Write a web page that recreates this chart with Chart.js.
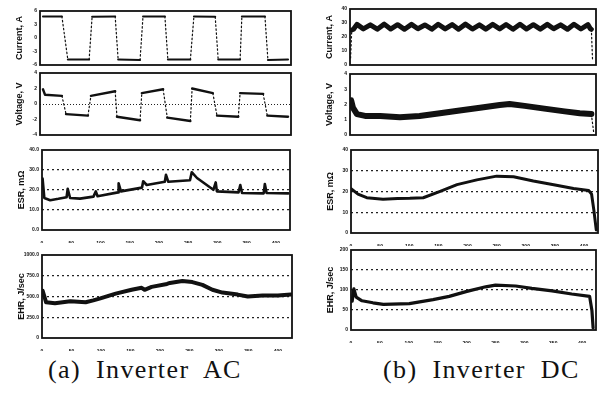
<!DOCTYPE html>
<html><head><meta charset="utf-8">
<script src="https://cdn.jsdelivr.net/npm/chart.js@4"></script>
<style>
html,body{margin:0;padding:0;background:#fff;}
body{width:603px;height:396px;position:relative;overflow:hidden;}
.p{position:absolute;}
.cap{position:absolute;font-family:"Liberation Serif","DejaVu Serif",serif;font-size:26px;letter-spacing:1.4px;word-spacing:7px;color:#111;white-space:pre;line-height:30px;}
</style></head><body>
<div class="cap" style="left:48px;top:355px;">(a) Inverter AC</div>
<div class="cap" style="left:383px;top:355px;">(b) Inverter DC</div>
<script>
// ---- shared time axis ----
const xTickValues = [0, 50, 100, 150, 200, 250, 300, 350, 400];
const xTickLabels = ['0', '50', '100', '150', '200', '250', '300', '350', '400'];

// ---- (a) Inverter AC ----
const acCurX = [5,37,47,83,88,127,132,169,174,211,216,254,260,296,301,338,341,380,385,419];
const acCurY = [4.8,4.8,-4.8,-4.8,4.7,4.8,-4.8,-4.9,4.8,4.8,-4.8,-4.8,4.8,4.7,-4.8,-4.8,4.8,4.8,-4.9,-4.8];
const acCurTicks = [-6, -3, 0, 3, 6];
const acCurLabels = ['-6', '-3', '0', '3', '6'];

const acVolX = [5,8.5,37,44,81,86,127,130,169,172,208,215,254,257,292,299,335,338,377,384,419];
const acVolY = [1.9,1.2,1.05,-1.3,-1.5,1.05,1.65,-1.65,-2.1,1.4,1.9,-1.75,-2.2,2.0,1.4,-1.5,-1.65,1.4,1.3,-1.5,-1.65];
const acVolTicks = [-4, -2, 0, 2, 4];
const acVolLabels = ['-4', '-2', '0', '2', '4'];

const acEsrX = [1,4,14,28,42,44,48,65,88,92,95,130,131,135,171,173,179,210,212,216,253,256,265,293,297,299,336,339,342,379,381,384,421];
const acEsrY = [25.7,16.0,14.9,15.6,16.4,20.6,16.0,15.7,16.7,19.3,16.9,18.8,23.3,19.3,21.2,24.4,22.5,24.1,27.6,24.1,24.9,28.9,26.0,20.1,23.8,19.3,18.8,22.5,18.5,18.3,23.0,18.5,18.3];
const acEsrTicks = [0, 10, 20, 30, 40];
const acEsrLabels = ['0.0', '10.0', '20.0', '30.0', '40.0'];

const acEhrX = [1,7,22,48,74,87,99,125,152,169,174,186,212,217,238,255,272,289,306,332,349,374,400,422];
const acEhrY = [570,430,419,442,430,453,477,535,581,605,581,616,651,663,686,674,640,581,547,523,500,512,512,523];
const acEhrTicks = [0, 250, 500, 750, 1000];
const acEhrLabels = ['0', '250.0', '500.0', '750.0', '1000.0'];

// ---- (b) Inverter DC ----
const dcCurX = [1,3,6,12,23,35,47,59,70,82,94,106,117,129,141,152,164,176,187,199,211,223,234,246,258,269,281,293,304,316,328,340,351,363,375,386,398,410,414,416,418];
const dcCurY = [5,25,25.5,29,25.8,28.7,25.6,29.2,25.7,28.8,25.5,29,25.9,28.6,25.6,29.1,25.8,28.9,25.5,29.2,25.7,28.7,25.6,29,25.8,28.9,25.5,29.1,25.7,28.8,25.6,29,25.9,28.7,25.5,29.1,25.7,28.9,26,25.5,4];
const dcCurTicks = [0, 10, 20, 30, 40];
const dcCurLabels = ['0', '10', '20', '30', '40'];

const dcVolX = [2,5,12,26,52,86,120,155,189,224,258,275,301,335,370,396,416,420];
const dcVolY = [2.27,1.8,1.37,1.25,1.25,1.16,1.25,1.43,1.61,1.79,1.97,2.03,1.91,1.73,1.55,1.43,1.37,0.18];
const dcVolTicks = [0, 1, 2, 3, 4];
const dcVolLabels = ['0', '1', '2', '3', '4'];

const dcEsrX = [0,12,27,55,80,101,124,153,182,216,250,279,313,348,382,408,413,417,421];
const dcEsrY = [21.4,18.7,17.0,16.3,16.6,16.7,17.0,20.1,23.3,25.6,27.4,27.1,25.1,23.3,21.4,20.5,18.7,10.8,1.5];
const dcEsrTicks = [0, 10, 20, 30, 40];
const dcEsrLabels = ['0', '10', '20', '30', '40'];

const dcEhrX = [2,5,9,19,38,56,101,142,170,199,233,250,285,313,348,382,413,417,419];
const dcEhrY = [72,103,82,73,68,64,66,76,84,96,108,112,110,104,98,90,84,48,5];
const dcEhrTicks = [0, 50, 100, 150, 200];
const dcEhrLabels = ['0', '50', '100', '150', '200'];

Chart.defaults.font.family = '"Liberation Sans", Arial, sans-serif';

const AX = 28, PT = 3, PR = 4;
const framePlugin = {
  id: 'frame',
  afterDatasetsDraw(ch) {
    const {ctx, chartArea: a} = ch;
    ctx.save();
    ctx.strokeStyle = '#111';
    ctx.lineWidth = 1.8;
    ctx.strokeRect(a.left, a.top, a.right - a.left, a.bottom - a.top);
    ctx.restore();
  }
};
function steep(c) {
  const dx = Math.abs(c.p1.x - c.p0.x), dy = Math.abs(c.p1.y - c.p0.y);
  return dy > 8 && dy > 2 * dx;
}
function panel(cfg) {
  const XB = cfg.xTicks ? 13 : 3;
  const div = document.createElement('div');
  div.className = 'p';
  div.style.left = (cfg.left - AX) + 'px';
  div.style.top = (cfg.top - PT) + 'px';
  div.style.width = (cfg.w + AX + PR) + 'px';
  div.style.height = (cfg.h + PT + XB) + 'px';
  const cv = document.createElement('canvas');
  div.appendChild(cv);
  document.body.appendChild(div);
  const ds = {
    data: cfg.xs.map((x, i) => ({x: x, y: cfg.ys[i]})),
    borderColor: '#111', borderWidth: cfg.lw, pointRadius: 0, tension: 0, fill: false,
    borderJoinStyle: 'round', borderCapStyle: 'round'
  };
  if (cfg.dashSteep) {
    ds.segment = {
      borderDash: c => steep(c) ? [1.5, 2.5] : undefined,
      borderWidth: c => steep(c) ? 1.2 : undefined
    };
  }
  new Chart(cv, {
    type: 'line',
    data: {datasets: [ds]},
    options: {
      responsive: true, maintainAspectRatio: false, animation: false, events: [],
      layout: {padding: {top: PT, right: PR, left: 0, bottom: 0}},
      plugins: {legend: {display: false}, tooltip: {enabled: false}},
      scales: {
        x: {
          type: 'linear', min: 0, max: 424,
          afterFit: s => { s.height = XB; },
          afterBuildTicks: s => { s.ticks = xTickValues.map(v => ({value: v})); },
          ticks: {display: cfg.xTicks, autoSkip: false, maxRotation: 0, padding: 3,
                  font: {size: 5, weight: 'bold'}, color: '#111',
                  callback: (v, i) => xTickLabels[i]},
          grid: {display: false}, border: {display: false}
        },
        y: {
          type: 'linear', min: cfg.ticks[0], max: cfg.ticks[cfg.ticks.length - 1],
          afterFit: s => { s.width = AX; },
          afterBuildTicks: s => { s.ticks = cfg.ticks.map(v => ({value: v})); },
          ticks: {padding: 3, font: {size: 5, weight: 'bold'}, color: '#111',
                  callback: (v, i) => cfg.labels[i]},
          grid: {drawTicks: false, lineWidth: cfg.gridW || 1.3,
                 color: c => (cfg.grid.indexOf(c.tick.value) >= 0) ? '#222' : 'rgba(0,0,0,0)'},
          border: {display: false, dash: cfg.gridDash || [2, 3]},
          title: {display: true, text: cfg.title, color: '#111',
                  font: {size: 9, weight: 'bold'}, padding: {top: 2, bottom: 0}}
        }
      }
    },
    plugins: [framePlugin]
  });
}

panel({left: 40, top: 8, w: 251, h: 60, xs: acCurX, ys: acCurY, ticks: acCurTicks, labels: acCurLabels,
       grid: [], title: 'Current, A', lw: 2, dashSteep: true, xTicks: false});
panel({left: 40, top: 70, w: 251, h: 68, xs: acVolX, ys: acVolY, ticks: acVolTicks, labels: acVolLabels,
       grid: [0], gridW: 1, gridDash: [1, 2], title: 'Voltage, V', lw: 2.4, dashSteep: true, xTicks: false});
panel({left: 42, top: 147, w: 248, h: 83, xs: acEsrX, ys: acEsrY, ticks: acEsrTicks, labels: acEsrLabels,
       grid: [10, 20, 30], title: 'ESR, m\u03A9', lw: 2.6, xTicks: true});
panel({left: 42, top: 252, w: 250, h: 86, xs: acEhrX, ys: acEhrY, ticks: acEhrTicks, labels: acEhrLabels,
       grid: [250, 500, 750], title: 'EHR, J/sec', lw: 4, xTicks: true});

panel({left: 350, top: 6, w: 246, h: 62, xs: dcCurX, ys: dcCurY, ticks: dcCurTicks, labels: dcCurLabels,
       grid: [], title: 'Current, A', lw: 5, dashSteep: true, xTicks: false});
panel({left: 350, top: 71, w: 246, h: 67, xs: dcVolX, ys: dcVolY, ticks: dcVolTicks, labels: dcVolLabels,
       grid: [], title: 'Voltage, V', lw: 6, dashSteep: true, xTicks: false});
panel({left: 351, top: 147, w: 247, h: 86, xs: dcEsrX, ys: dcEsrY, ticks: dcEsrTicks, labels: dcEsrLabels,
       grid: [10, 20, 30], title: 'ESR, m\u03A9', lw: 3, xTicks: true});
panel({left: 351, top: 247, w: 245, h: 83, xs: dcEhrX, ys: dcEhrY, ticks: dcEhrTicks, labels: dcEhrLabels,
       grid: [50, 100, 150], title: 'EHR, J/sec', lw: 3.2, xTicks: true});
</script>
</body></html>
